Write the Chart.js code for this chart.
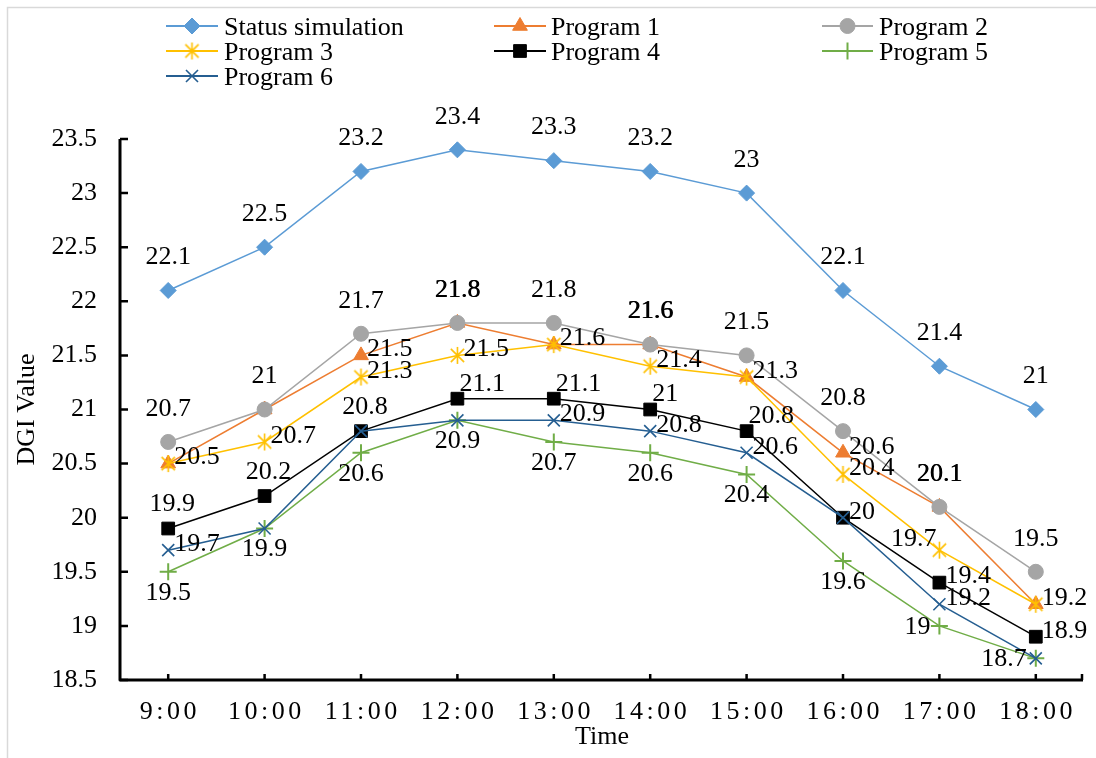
<!DOCTYPE html>
<html>
<head>
<meta charset="utf-8">
<title>DGI Value by Time</title>
<script src="https://cdn.jsdelivr.net/npm/chart.js@4.4.1/dist/chart.umd.min.js"></script>
<style>
  html, body { margin: 0; padding: 0; background: #ffffff; }
  #wrap { width: 1096px; height: 758px; }
</style>
</head>
<body>
<div id="wrap"><canvas id="dgi" width="1096" height="758"></canvas></div>
<script>
// ---- data ----
const times = ['9:00', '10:00', '11:00', '12:00', '13:00', '14:00', '15:00', '16:00', '17:00', '18:00'];
const statusSimulation = [22.1, 22.5, 23.2, 23.4, 23.3, 23.2, 23, 22.1, 21.4, 21];
const program1 = [20.5, 21, 21.5, 21.8, 21.6, 21.6, 21.3, 20.6, 20.1, 19.2];
const program2 = [20.7, 21, 21.7, 21.8, 21.8, 21.6, 21.5, 20.8, 20.1, 19.5];
const program3 = [20.5, 20.7, 21.3, 21.5, 21.6, 21.4, 21.3, 20.4, 19.7, 19.2];
const program4 = [19.9, 20.2, 20.8, 21.1, 21.1, 21, 20.8, 20, 19.4, 18.9];
const program5 = [19.5, 19.9, 20.6, 20.9, 20.7, 20.6, 20.4, 19.6, 19, 18.7];
const program6 = [19.7, 19.9, 20.8, 20.9, 20.9, 20.8, 20.6, 20, 19.2, 18.7];
const yTicks = [18.5, 19, 19.5, 20, 20.5, 21, 21.5, 22, 22.5, 23, 23.5];

// ---- label placement per point ----
const spotsStatus = Array(10).fill('top');
const spotsP1 = ['right', 'top', 'right', 'topOver', 'right', 'topOver', 'right', 'right', 'topOver', 'right'];
const spotsP2 = Array(10).fill('top');
const spotsP3 = ['right', 'right', 'right', 'right', 'right', 'right', 'right', 'right', 'topLeft', 'right'];
const spotsP4 = ['topNear', 'topNear', 'topNear', 'topRight', 'topRight', 'topRight', 'topRight', 'right', 'right', 'right'];
const spotsP5 = ['bottom', 'bottom', 'bottom', 'bottom', 'bottom', 'bottom', 'bottom', 'bottom', 'left', 'left'];
const spotsP6 = ['right', 'bottom', 'topNear', 'bottom', 'right', 'right', 'right', 'right', 'right', 'left'];

const LABEL_SPOTS = {
  top:      { align: 'center', dx: 0,   dy: -33 },
  topOver:  { align: 'center', dx: 0.7, dy: -33 },
  topNear:  { align: 'center', dx: 4,   dy: -24 },
  topRight: { align: 'left',   dx: 2,   dy: -15 },
  right:    { align: 'left',   dx: 6,   dy: -6 },
  bottom:   { align: 'center', dx: 0,   dy: 21 },
  left:     { align: 'right',  dx: -9,  dy: 1 },
  topLeft:  { align: 'right',  dx: -3,  dy: -11 }
};

const FONT_FAMILY = "'Liberation Serif', 'Times New Roman', Times, serif";
const FONT_SIZE = 26;

// asterisk marker: vertical stroke plus a diagonal cross
function asteriskMarker(color, r, lw) {
  const size = Math.ceil(2 * r + 2 * lw);
  const c = document.createElement('canvas');
  c.width = size; c.height = size;
  const g = c.getContext('2d');
  const m = size / 2;
  const d = r * 0.78;
  g.strokeStyle = color;
  g.lineWidth = lw;
  g.beginPath();
  g.moveTo(m, m - r); g.lineTo(m, m + r);
  g.moveTo(m - d, m - d); g.lineTo(m + d, m + d);
  g.moveTo(m + d, m - d); g.lineTo(m - d, m + d);
  g.stroke();
  return c;
}

function series(label, data, color, style, radius, spots, idx, opts) {
  return Object.assign({
    label: label,
    data: data,
    borderColor: color,
    backgroundColor: color,
    borderWidth: 1.5,
    pointStyle: style,
    pointRadius: radius,
    pointBackgroundColor: color,
    pointBorderColor: color,
    pointBorderWidth: 1,
    pointHoverRadius: radius,
    tension: 0,
    fill: false,
    clip: false,
    order: -idx,
    labelSpots: spots
  }, opts || {});
}

const datasets = [
  series('Status simulation', statusSimulation, '#5B9BD5', 'rectRot', 8, spotsStatus, 0),
  series('Program 1', program1, '#ED7D31', 'triangle', 8.5, spotsP1, 1),
  series('Program 2', program2, '#A5A5A5', 'circle', 7.5, spotsP2, 2),
  series('Program 3', program3, '#FFC000', asteriskMarker('#FFC000', 8.5, 1.6), 8, spotsP3, 3),
  series('Program 4', program4, '#000000', 'rect', 9, spotsP4, 4),
  series('Program 5', program5, '#70AD47', 'cross', 8.5, spotsP5, 5, { pointBorderWidth: 2 }),
  series('Program 6', program6, '#255E91', 'crossRot', 8.5, spotsP6, 6, { pointBorderWidth: 1.6 })
];

// ---- plugins ----
const frameAndAxes = {
  id: 'frameAndAxes',
  beforeDraw(chart) {
    const ctx = chart.ctx;
    ctx.save();
    ctx.fillStyle = '#ffffff';
    ctx.fillRect(0, 0, chart.width, chart.height);
    // outer chart frame
    ctx.strokeStyle = '#D9D9D9';
    ctx.lineWidth = 1.5;
    ctx.strokeRect(7.5, 7.5, chart.width + 20, chart.height + 20);
    ctx.restore();

    // spaced-out time labels on the category axis
    const xs = chart.scales.x;
    if (!xs._spacedLabels) {
      const orig = xs.drawLabels;
      xs.drawLabels = function (area) {
        const c = this.ctx;
        c.save();
        c.letterSpacing = '3.5px';
        c.translate(1.75, 0);
        orig.call(this, area);
        c.restore();
      };
      xs._spacedLabels = true;
    }
  },
  beforeDatasetsDraw(chart) {
    const { ctx, chartArea: a, scales: { x, y } } = chart;
    ctx.save();
    ctx.strokeStyle = '#000000';
    ctx.lineWidth = 3;
    ctx.lineJoin = 'round';
    ctx.lineCap = 'butt';
    ctx.beginPath();
    ctx.moveTo(a.left, a.top);
    ctx.lineTo(a.left, a.bottom);
    ctx.lineTo(a.right - 1, a.bottom);
    ctx.stroke();
    ctx.lineWidth = 2.5;
    ctx.beginPath();
    // inward ticks on the value axis
    y.ticks.forEach((t, i) => {
      const py = y.getPixelForTick(i);
      ctx.moveTo(a.left, py);
      ctx.lineTo(a.left + 8, py);
    });
    // inward ticks on the category axis
    x.ticks.forEach((t, i) => {
      const px = x.getPixelForTick(i);
      ctx.moveTo(px, a.bottom);
      ctx.lineTo(px, a.bottom - 6);
    });
    ctx.moveTo(a.right - 2, a.bottom);
    ctx.lineTo(a.right - 2, a.bottom - 6);
    ctx.stroke();
    ctx.restore();
  }
};

const valueLabels = {
  id: 'valueLabels',
  afterDatasetsDraw(chart) {
    const ctx = chart.ctx;
    const drawn = new Set();
    ctx.save();
    ctx.font = FONT_SIZE + 'px ' + FONT_FAMILY;
    ctx.fillStyle = '#000000';
    ctx.textBaseline = 'middle';
    chart.data.datasets.forEach((ds, di) => {
      const meta = chart.getDatasetMeta(di);
      meta.data.forEach((pt, i) => {
        const spot = LABEL_SPOTS[ds.labelSpots[i]] || LABEL_SPOTS.right;
        const text = String(ds.data[i]);
        const lx = pt.x + spot.dx;
        const ly = pt.y + spot.dy;
        // coinciding labels are written once
        const key = text + '@' + lx.toFixed(1) + ',' + ly.toFixed(1) + spot.align;
        if (drawn.has(key)) return;
        drawn.add(key);
        ctx.textAlign = spot.align;
        ctx.fillText(text, lx, ly);
      });
    });
    ctx.restore();
  }
};

const gridLegend = {
  id: 'gridLegend',
  afterDraw(chart) {
    const ctx = chart.ctx;
    const cols = [
      { x1: 166, x2: 218, tx: 224 },
      { x1: 494, x2: 546, tx: 551 },
      { x1: 822, x2: 873, tx: 879 }
    ];
    const drawPoint = Chart.helpers && Chart.helpers.drawPoint;
    ctx.save();
    chart.data.datasets.forEach((ds, i) => {
      const col = cols[i % 3];
      const row = Math.floor(i / 3);
      const ly = 26 + 25 * row;
      ctx.strokeStyle = ds.borderColor;
      ctx.lineWidth = 2;
      ctx.beginPath();
      ctx.moveTo(col.x1, ly);
      ctx.lineTo(col.x2, ly);
      ctx.stroke();
      const cx = (col.x1 + col.x2) / 2;
      ctx.fillStyle = ds.pointBackgroundColor;
      ctx.strokeStyle = ds.pointBorderColor;
      ctx.lineWidth = ds.pointBorderWidth;
      if (drawPoint) {
        drawPoint(ctx, { pointStyle: ds.pointStyle, radius: ds.pointRadius, borderWidth: ds.pointBorderWidth, rotation: 0 }, cx, ly);
      } else {
        ctx.beginPath();
        ctx.arc(cx, ly, ds.pointRadius, 0, Math.PI * 2);
        ctx.fill();
      }
      ctx.fillStyle = '#000000';
      ctx.font = FONT_SIZE + 'px ' + FONT_FAMILY;
      ctx.textAlign = 'left';
      ctx.textBaseline = 'middle';
      ctx.fillText(ds.label, col.tx, ly + 2);
    });
    ctx.restore();
  }
};

Chart.defaults.font.family = FONT_FAMILY;
Chart.defaults.font.size = FONT_SIZE;
Chart.defaults.color = '#000000';

new Chart(document.getElementById('dgi'), {
  type: 'line',
  data: { labels: times, datasets: datasets },
  options: {
    responsive: false,
    animation: false,
    devicePixelRatio: 1,
    layout: { padding: { left: 0, right: 12, top: 139, bottom: 0 } },
    plugins: {
      legend: { display: false },
      tooltip: { enabled: false }
    },
    scales: {
      x: {
        type: 'category',
        offset: true,
        grid: { display: false, drawTicks: false },
        border: { display: false },
        ticks: { color: '#000000', padding: 17, maxRotation: 0, autoSkip: false,
                 font: { family: FONT_FAMILY, size: FONT_SIZE } },
        title: { display: true, text: 'Time', color: '#000000',
                 font: { family: FONT_FAMILY, size: FONT_SIZE },
                 padding: { top: 0, bottom: 5 } },
        afterFit(scale) { scale.height = 78; }
      },
      y: {
        type: 'linear',
        min: 18.5,
        max: 23.5,
        grid: { display: false, drawTicks: false },
        border: { display: false },
        ticks: { color: '#000000', padding: 23,
                 font: { family: FONT_FAMILY, size: FONT_SIZE },
                 callback: (v) => String(v) },
        afterBuildTicks(scale) { scale.ticks = yTicks.map(v => ({ value: v })); },
        title: { display: true, text: 'DGI Value', color: '#000000',
                 font: { family: FONT_FAMILY, size: FONT_SIZE },
                 padding: { top: 12, bottom: 0 } },
        afterFit(scale) { scale.width = 120; }
      }
    }
  },
  plugins: [frameAndAxes, valueLabels, gridLegend]
});
</script>
</body>
</html>
